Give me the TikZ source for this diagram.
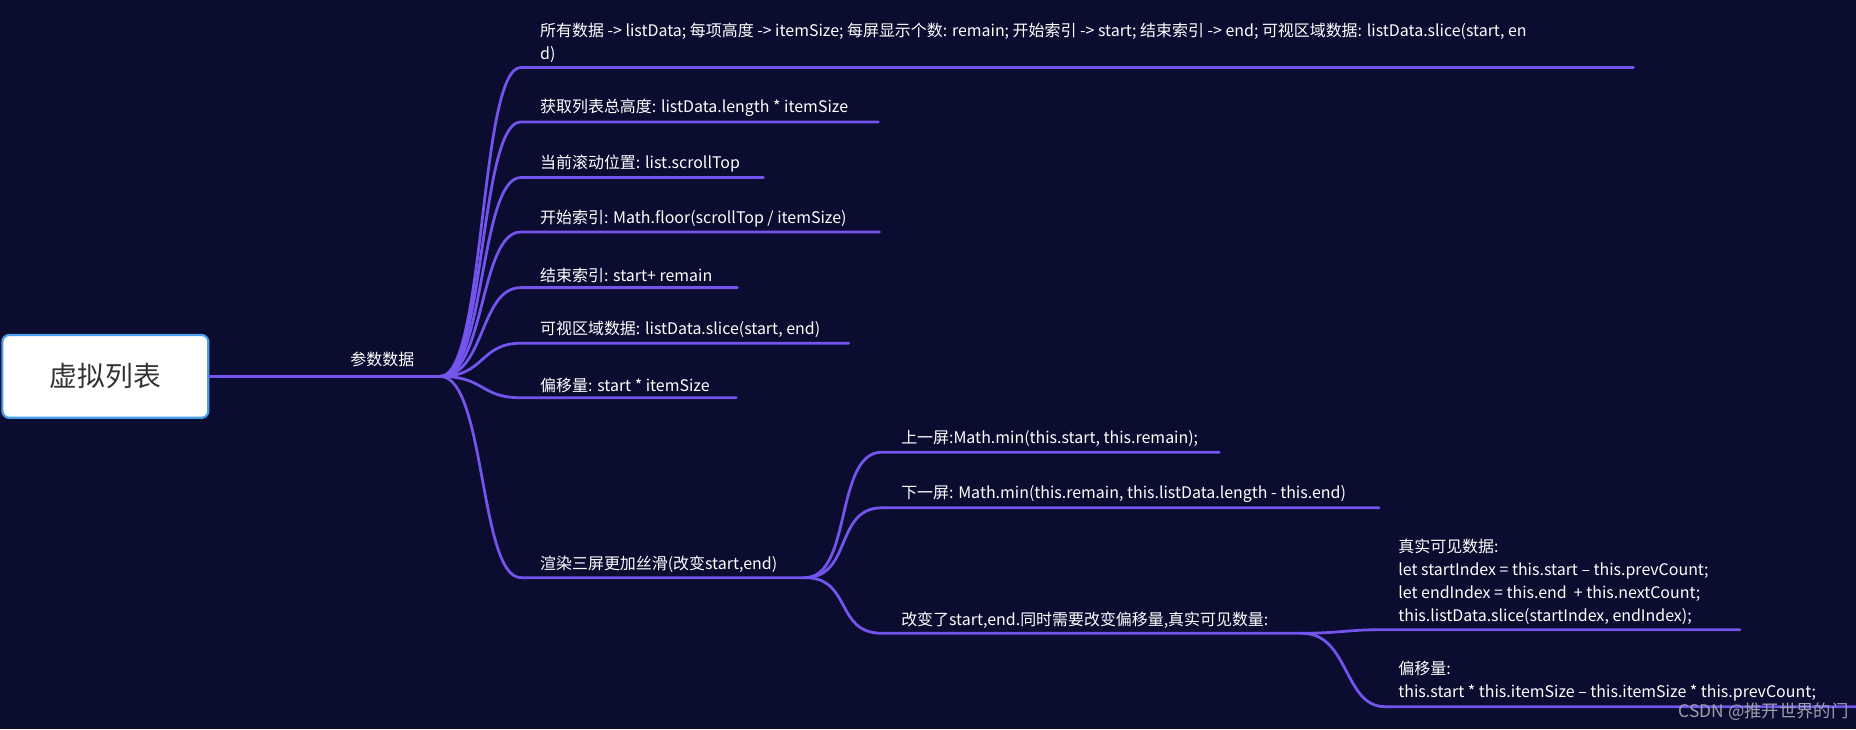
\documentclass[tikz,border=0pt]{standalone}
\usepackage{fontspec}
\setmainfont{Noto Sans CJK SC}
\definecolor{bg}{HTML}{0A0D30}
\definecolor{br}{HTML}{7355EE}
\definecolor{rb}{HTML}{4A9EEB}
\begin{document}
\begin{tikzpicture}[x=0.03cm,y=-0.03cm,
  conn/.style={draw=br,line width=2pt,line cap=round},
  lbl/.style={anchor=south west,text=white,inner sep=1pt,font=\fontsize{11.5}{16.5}\selectfont,align=left},
  rootbox/.style={draw=rb,fill=white,line width=1.6pt,rounded corners=5pt,minimum width=174*0.03cm,minimum height=70*0.03cm,font=\fontsize{20}{24}\selectfont,text=black!80}]
\fill[bg] (0,0) rectangle (1568,616);
\useasboundingbox (0,0) rectangle (1568,616);
\node[rootbox] (root) at (89,318) {虚拟列表};
\coordinate (j0) at (372,318);
\draw[conn] (root.east) -- (j0);
\node[text=white,font=\fontsize{11.5}{14}\selectfont] (l0) at (323,304) {参数数据};
% first-level
\def\branch#1#2#3#4{%
  \coordinate (s#1) at (440,#2);
  \coordinate (e#1) at (#3,#2);
  \draw[conn] (j0) .. controls (410,318) and (405,#2) .. (s#1) -- (e#1);
  \node[lbl] (t#1) at (455,#2-3) {#4};}
\branch{1}{57}{1380}{所有数据 -> listData; 每项高度 -> itemSize; 每屏显示个数: remain; 开始索引 -> start; 结束索引 -> end; 可视区域数据: listData.slice(start, en\\d)}
\branch{2}{103}{742}{获取列表总高度: listData.length * itemSize}
\branch{3}{150}{645}{当前滚动位置: list.scrollTop}
\branch{4}{196}{743}{开始索引: Math.floor(scrollTop / itemSize)}
\branch{5}{243}{623}{结束索引: start+ remain}
\branch{6}{290}{717}{可视区域数据: listData.slice(start, end)}
\branch{7}{336}{622}{偏移量: start * itemSize}
\coordinate (j1) at (680,488);
\draw[conn] (j0) .. controls (410,318) and (405,488) .. (440,488) -- (j1);
\node[lbl] (t8) at (455,485) {渲染三屏更加丝滑(改变start,end)};
% second level
\coordinate (sa) at (745,382); \coordinate (ea) at (1030,382);
\draw[conn] (j1) .. controls (720,488) and (705,382) .. (sa) -- (ea);
\node[lbl] (ta) at (760,379) {上一屏:Math.min(this.start, this.remain);};
\coordinate (sb) at (745,429); \coordinate (eb) at (1165,429);
\draw[conn] (j1) .. controls (720,488) and (705,429) .. (sb) -- (eb);
\node[lbl] (tb) at (760,426) {下一屏: Math.min(this.remain, this.listData.length - this.end)};
\coordinate (sc) at (745,535); \coordinate (j2) at (1100,535);
\draw[conn] (j1) .. controls (720,488) and (705,535) .. (sc) -- (j2);
\node[lbl] (tc) at (760,532) {改变了start,end.同时需要改变偏移量,真实可见数量:};
% third level
\coordinate (si) at (1165,532); \coordinate (ei) at (1470,532);
\draw[conn] (j2) .. controls (1130,535) and (1140,532) .. (si) -- (ei);
\node[lbl] (ti) at (1180,529) {真实可见数据:\\let startIndex = this.start – this.prevCount;\\let endIndex = this.end \ + this.nextCount;\\this.listData.slice(startIndex, endIndex);};
\coordinate (sii) at (1170,597); \coordinate (eii) at (1568,597);
\draw[conn] (j2) .. controls (1140,535) and (1135,597) .. (sii) -- (eii);
\node[lbl] (tii) at (1180,594) {偏移量:\\this.start * this.itemSize – this.itemSize * this.prevCount;};
\node[anchor=east,text=white!60!bg,font=\fontsize{12.5}{15}\selectfont,inner sep=0pt] (wm) at (1562,601) {CSDN @推开世界的门};
\end{tikzpicture}
\end{document}
